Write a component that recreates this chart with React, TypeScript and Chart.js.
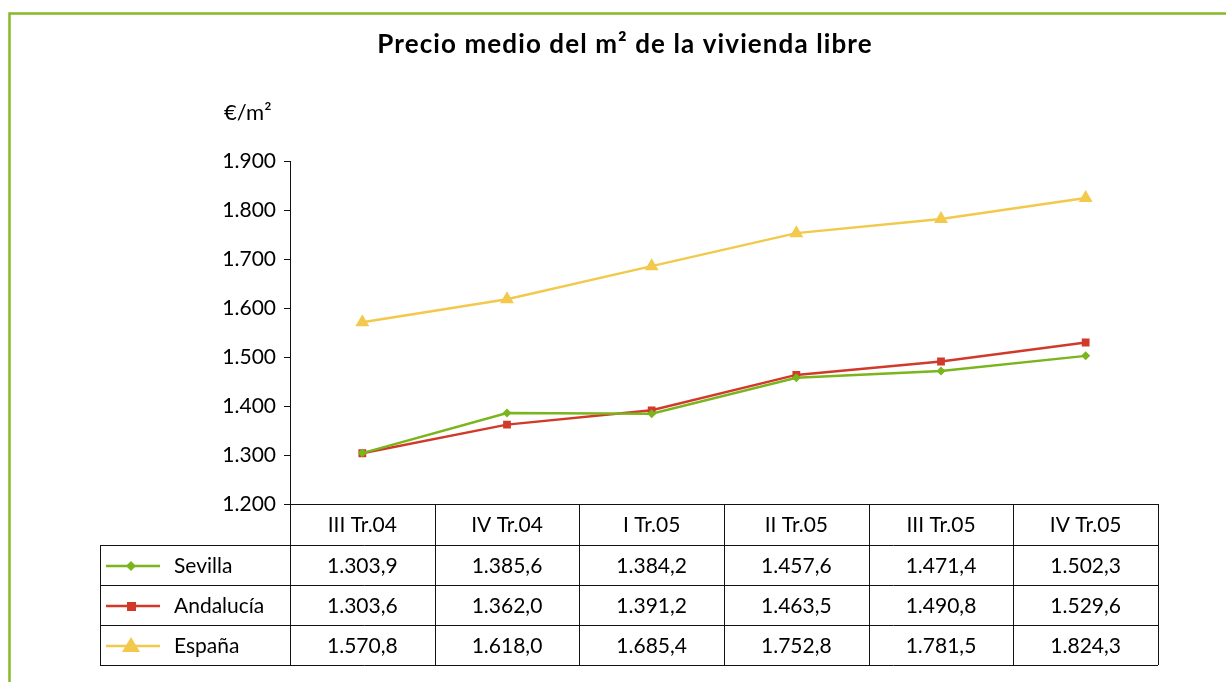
import { useEffect, useRef } from "react";
import { Chart, registerables } from "chart.js";

Chart.register(...registerables);

const categories = ["III Tr.04", "IV Tr.04", "I Tr.05", "II Tr.05", "III Tr.05", "IV Tr.05"];
const sevilla = [1303.9, 1385.6, 1384.2, 1457.6, 1471.4, 1502.3];
const andalucia = [1303.6, 1362.0, 1391.2, 1463.5, 1490.8, 1529.6];
const espana = [1570.8, 1618.0, 1685.4, 1752.8, 1781.5, 1824.3];
const seriesNames = ["Sevilla", "Andalucía", "España"];
const yMin = 1200;
const yMax = 1900;
const yStep = 100;

const title = "Precio medio del m² de la vivienda libre";
const unitLabel = "€/m²";

const FONT = "Lato, 'Noto Sans', sans-serif";
const GREEN = "#7ab51d";
const RED = "#d13a2a";
const YELLOW = "#f2c94c";
const FRAME = "#86b928";

function fmtEs(v: number, dec: number): string {
  const s = v.toFixed(dec);
  const [ip, dp] = s.split(".");
  const withSep = ip.replace(/\B(?=(\d{3})+(?!\d))/g, ".");
  return dp !== undefined ? withSep + "," + dp : withSep;
}

const tablePlugin = {
  id: "tablePlugin",
  afterDraw(chart: any) {
    const ctx = chart.ctx as CanvasRenderingContext2D;
    const area = chart.chartArea;
    const xs = chart.scales.x;
    const n = categories.length;
    const colW = (area.right - area.left) / n;
    const headerTop = area.bottom;
    const rowH = 40;
    const headerBottom = headerTop + 41;
    const legendLeft = 100;
    const tableBottom = headerBottom + rowH * 3;

    ctx.save();
    // green frame
    ctx.strokeStyle = FRAME;
    ctx.lineWidth = 2.5;
    ctx.beginPath();
    ctx.moveTo(9.5, 682);
    ctx.lineTo(9.5, 13.5);
    ctx.lineTo(1226, 13.5);
    ctx.stroke();

    // title
    ctx.fillStyle = "#000";
    ctx.font = `bold 26px ${FONT}`;
    (ctx as any).letterSpacing = "1.1px";
    ctx.textAlign = "center";
    ctx.textBaseline = "middle";
    ctx.fillText(title, 625, 45);
    (ctx as any).letterSpacing = "0px";

    // unit
    ctx.font = `22px ${FONT}`;
    ctx.textAlign = "left";
    ctx.fillText(unitLabel, 224, 113);

    // table lines
    ctx.strokeStyle = "#111";
    ctx.lineWidth = 1;
    ctx.beginPath();
    ctx.moveTo(area.left - 6, headerTop + 0.5);
    ctx.lineTo(area.right, headerTop + 0.5);
    for (let r = 0; r <= 3; r++) {
      const y = Math.round(headerBottom + r * rowH) + 0.5;
      ctx.moveTo(legendLeft, y);
      ctx.lineTo(area.right, y);
    }
    for (let c = 0; c <= n; c++) {
      const x = Math.round(area.left + c * colW) + 0.5;
      ctx.moveTo(x, headerTop);
      ctx.lineTo(x, tableBottom);
    }
    ctx.moveTo(legendLeft + 0.5, headerBottom);
    ctx.lineTo(legendLeft + 0.5, tableBottom);
    ctx.stroke();

    // header text
    ctx.fillStyle = "#000";
    ctx.font = `21px ${FONT}`;
    ctx.textAlign = "center";
    ctx.textBaseline = "middle";
    categories.forEach((c, i) => {
      ctx.fillText(c, xs.getPixelForValue(i), headerTop + 21);
    });

    const allSeries = [sevilla, andalucia, espana];
    const colors = [GREEN, RED, YELLOW];
    allSeries.forEach((vals, r) => {
      const cy = headerBottom + r * rowH + rowH / 2 + 1;
      vals.forEach((v, i) => {
        ctx.fillStyle = "#000";
        ctx.textAlign = "center";
        ctx.fillText(fmtEs(v, 1), xs.getPixelForValue(i), cy);
      });
      ctx.strokeStyle = colors[r];
      ctx.lineWidth = 2.5;
      ctx.beginPath();
      ctx.moveTo(106, cy);
      ctx.lineTo(160, cy);
      ctx.stroke();
      ctx.fillStyle = colors[r];
      ctx.beginPath();
      if (r === 0) {
        ctx.moveTo(131, cy - 5);
        ctx.lineTo(136, cy);
        ctx.lineTo(131, cy + 5);
        ctx.lineTo(126, cy);
        ctx.closePath();
      } else if (r === 1) {
        ctx.rect(127, cy - 4, 9, 9);
      } else {
        ctx.moveTo(131, cy - 9);
        ctx.lineTo(140, cy + 6);
        ctx.lineTo(122, cy + 6);
        ctx.closePath();
      }
      ctx.fill();
      ctx.fillStyle = "#000";
      ctx.textAlign = "left";
      ctx.fillText(seriesNames[r], 174, cy);
    });
    ctx.restore();
  },
};

export default function App() {
  const ref = useRef<HTMLCanvasElement>(null);
  useEffect(() => {
    if (!ref.current) return;
    const chart = new Chart(ref.current, {
      type: "line",
      data: {
        labels: categories,
        datasets: [
          {
            label: seriesNames[0],
            data: sevilla,
            borderColor: GREEN,
            backgroundColor: GREEN,
            borderWidth: 2.5,
            pointStyle: "rectRot",
            pointRadius: 4.5,
            pointBorderWidth: 0,
          },
          {
            label: seriesNames[1],
            data: andalucia,
            borderColor: RED,
            backgroundColor: RED,
            borderWidth: 2.5,
            pointStyle: "rect",
            pointRadius: 5.5,
            pointBorderWidth: 0,
          },
          {
            label: seriesNames[2],
            data: espana,
            borderColor: YELLOW,
            backgroundColor: YELLOW,
            borderWidth: 2.5,
            pointStyle: "triangle",
            pointRadius: 8,
            pointBorderWidth: 0,
          },
        ],
      },
      options: {
        responsive: false,
        animation: false,
        layout: { padding: { left: 0, right: 68, top: 161, bottom: 178 } },
        plugins: { legend: { display: false }, tooltip: { enabled: false }, title: { display: false } },
        scales: {
          x: { display: false, offset: true },
          y: {
            min: yMin,
            max: yMax,
            afterFit: (s: any) => {
              s.width = 290;
            },
            ticks: {
              stepSize: yStep,
              color: "#000",
              font: { family: FONT, size: 21 },
              padding: 8,
              callback: (v: any) => fmtEs(Number(v), 0),
            },
            grid: { drawOnChartArea: false, drawTicks: true, tickLength: 6, color: "#111" },
            border: { display: true, color: "#111", width: 1 },
          },
        },
      },
      plugins: [tablePlugin],
    });
    return () => chart.destroy();
  }, []);
  return (
    <div style={{ position: "fixed", left: 0, top: 0, width: 1226, height: 682, background: "#fff" }}>
      <canvas ref={ref} width={1226} height={682} style={{ display: "block" }} />
    </div>
  );
}
